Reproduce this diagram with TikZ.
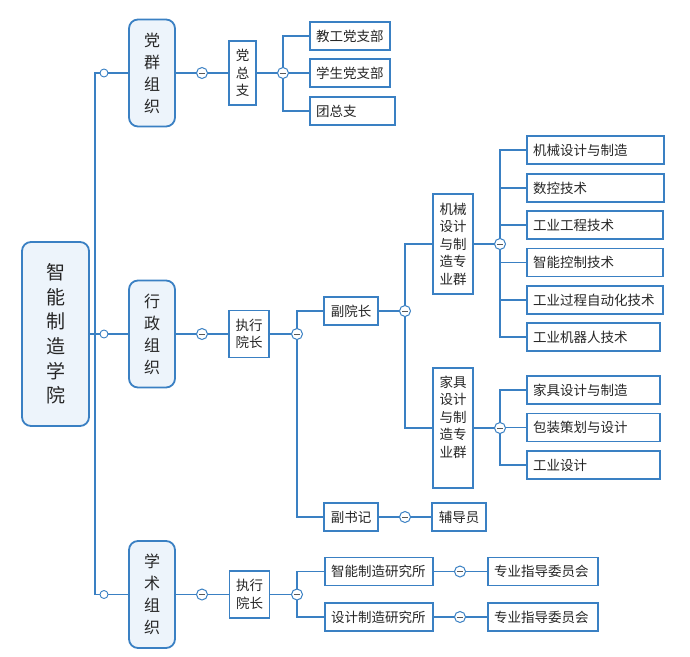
\documentclass[tikz,border=0pt]{standalone}
\usepackage{fontspec}
\newfontfamily\cjk{Noto Sans CJK SC}
\definecolor{bl}{HTML}{3A80C3}
\definecolor{lf}{HTML}{EDF4FB}
\begin{document}
\begin{tikzpicture}[x=1pt,y=-1pt,
 every node/.style={font=\cjk\fontsize{13.5}{17.5}\selectfont, text=black!85},
 ln/.style={draw=bl, line width=1.8pt},
 grp/.style={draw=bl, fill=lf, line width=1.8pt, rounded corners=9pt, minimum width=46pt, minimum height=107pt, inner sep=0pt, align=center, font=\cjk\fontsize{16}{22}\selectfont},
 box/.style={draw=bl, fill=white, line width=1.8pt, inner sep=0pt, align=center},
 leaf/.style={draw=bl, fill=white, line width=1.8pt, inner xsep=6pt, inner ysep=0pt, minimum height=28pt, text width=#1, align=left},
 mc/.style={circle, draw=bl, fill=white, line width=1pt, minimum size=11pt, inner sep=0pt,
   path picture={\draw[line width=1pt, black!65] ([xshift=-2.6pt]path picture bounding box.center) -- ([xshift=2.6pt]path picture bounding box.center);}},
 tc/.style={circle, draw=bl, fill=white, line width=0.9pt, minimum size=8pt, inner sep=0pt}
]
\useasboundingbox (0,0) rectangle (690,656);

% coordinates of junctions
\coordinate (tr) at (95,334);
\coordinate (t1) at (104,73);
\coordinate (t2) at (104,334);
\coordinate (t3) at (104,594.5);
\coordinate (c1) at (202,73);
\coordinate (c2) at (202,334);
\coordinate (c3) at (202,594.5);
\coordinate (d1) at (283,73);
\coordinate (d2) at (297,334);
\coordinate (d3) at (405,311);
\coordinate (d4) at (405,517);
\coordinate (d5) at (297,594.5);
\coordinate (e1) at (500,244);
\coordinate (e2) at (500,428);
\coordinate (f1) at (460,571.5);
\coordinate (f2) at (460,617);

% nodes
\node[box, fill=lf, rounded corners=9pt, minimum width=67pt, minimum height=184pt, font=\cjk\fontsize{19}{24.6}\selectfont] (root) at (55.5,334) {智\\能\\制\\造\\学\\院};

\node[grp] (g1) at (152,73) {党\\群\\组\\织};
\node[grp] (g2) at (152,334) {行\\政\\组\\织};
\node[grp] (g3) at (152,594.5) {学\\术\\组\\织};

\node[box, minimum width=27pt, minimum height=64pt] (zb) at (242.5,73) {党\\总\\支};
\node[leaf=68pt] (l1) at (350,36) {教工党支部};
\node[leaf=68pt] (l2) at (350,73) {学生党支部};
\node[leaf=73pt] (l3) at (352.5,111) {团总支};

\node[box, minimum width=40pt, minimum height=47pt] (zx) at (249,334) {执行\\院长};
\node[box, minimum width=54pt, minimum height=28pt] (fy) at (351,311) {副院长};
\node[box, minimum width=54pt, minimum height=28pt] (fs) at (351,517) {副书记};
\node[box, minimum width=54pt, minimum height=28pt] (fdy) at (459,517) {辅导员};

\node[box, minimum width=40pt, minimum height=100pt] (jx) at (453,244) {机械\\设计\\与制\\造专\\业群};
\node[box, minimum width=40pt, minimum height=120pt] (jj) at (453,428) {家具\\设计\\与制\\造专\\业群\\\strut};

\node[leaf=125pt] (m1) at (595.5,150) {机械设计与制造};
\node[leaf=125pt] (m2) at (595.5,188) {数控技术};
\node[leaf=124pt] (m3) at (595,225) {工业工程技术};
\node[leaf=124pt] (m4) at (595,262.5) {智能控制技术};
\node[leaf=124pt] (m5) at (595,300) {工业过程自动化技术};
\node[leaf=121pt] (m6) at (593.5,337) {工业机器人技术};

\node[leaf=121pt] (n1) at (593.5,390) {家具设计与制造};
\node[leaf=121pt] (n2) at (593.5,427.5) {包装策划与设计};
\node[leaf=121pt] (n3) at (593.5,465) {工业设计};

\node[box, minimum width=40pt, minimum height=47pt] (zx2) at (249.5,594.5) {执行\\院长};
\node[leaf=96pt] (y1) at (379,571.5) {智能制造研究所};
\node[leaf=96pt] (y2) at (379,617) {设计制造研究所};
\node[leaf=98pt] (w1) at (543,571.5) {专业指导委员会};
\node[leaf=98pt] (w2) at (543,617) {专业指导委员会};

% connectors
\draw[ln] (root.east) -- (g2.west);
\draw[ln] (tr) |- (g1.west);
\draw[ln] (tr) |- (g3.west);

\draw[ln] (g1.east) -- (zb.west);
\draw[ln] (zb.east) -- (l2.west);
\draw[ln] (d1) |- (l1.west);
\draw[ln] (d1) |- (l3.west);

\draw[ln] (g2.east) -- (zx.west);
\draw[ln] (zx.east) -- (d2);
\draw[ln] (d2) |- (fy.west);
\draw[ln] (d2) |- (fs.west);
\draw[ln] (fy.east) -- (d3);
\draw[ln] (d3) |- (jx.west);
\draw[ln] (d3) |- (jj.west);
\draw[ln] (jx.east) -- (e1);
\foreach \m in {m1,m2,m3,m4,m5,m6} \draw[ln] (e1) |- (\m.west);
\draw[ln] (jj.east) -- (e2);
\foreach \m in {n1,n2,n3} \draw[ln] (e2) |- (\m.west);
\draw[ln] (fs.east) -- (fdy.west);

\draw[ln] (g3.east) -- (zx2.west);
\draw[ln] (zx2.east) -- (d5);
\draw[ln] (d5) |- (y1.west);
\draw[ln] (d5) |- (y2.west);
\draw[ln] (y1.east) -- (w1.west);
\draw[ln] (y2.east) -- (w2.west);

% junction markers
\node[tc] (t1n) at (t1) {};
\node[tc] (t2n) at (t2) {};
\node[tc] (t3n) at (t3) {};
\node[mc] (c1n) at (c1) {};
\node[mc] (c2n) at (c2) {};
\node[mc] (c3n) at (c3) {};
\node[mc] (d1n) at (d1) {};
\node[mc] (d2n) at (d2) {};
\node[mc] (d3n) at (d3) {};
\node[mc] (d4n) at (d4) {};
\node[mc] (d5n) at (d5) {};
\node[mc] (e1n) at (e1) {};
\node[mc] (e2n) at (e2) {};
\node[mc] (f1n) at (f1) {};
\node[mc] (f2n) at (f2) {};
\end{tikzpicture}
\end{document}
